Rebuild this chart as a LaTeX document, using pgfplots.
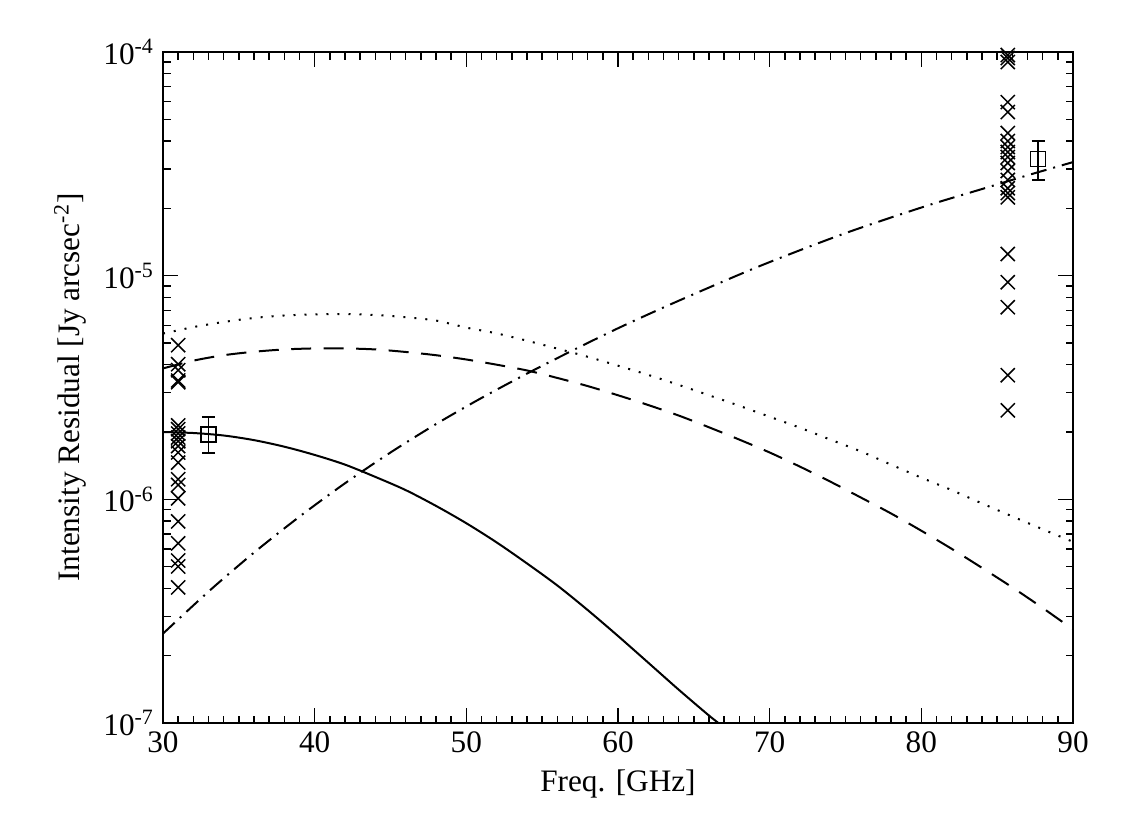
\documentclass[border=0pt]{standalone}
\usepackage{fontspec}
\setmainfont{Liberation Serif}
\usepackage{pgfplots}
\pgfplotsset{compat=1.18}
\begin{document}
\begin{tikzpicture}
\useasboundingbox (-65.2pt,-42.8pt) rectangle (383.2pt,289.2pt);
\begin{axis}[
  at={(0pt,0pt)}, anchor=south west,
  scale only axis, width=364pt, height=268.4pt,
  xmin=30, xmax=90, ymode=log, ymin=1e-7, ymax=1e-4,
  xtick={30,40,...,90}, minor x tick num=9,
  ytick={1e-7,1e-6,1e-5,1e-4},
  yticklabels={10\textsuperscript{-7},10\textsuperscript{-6},10\textsuperscript{-5},10\textsuperscript{-4}},
  /pgf/number format/assume math mode=true,
  ticklabel style={font=\fontsize{12.5}{15}\selectfont},
  label style={font=\fontsize{12.5}{15}\selectfont},
  xlabel={Freq. [GHz]},
  ylabel={Intensity Residual [Jy arcsec\textsuperscript{-2}]},
  axis line style={line width=0.8pt},
  major tick length=6pt, minor tick length=3pt,
  every tick/.style={black, line width=0.6pt},
  tick align=inside,
  clip=true,
]
% solid
\addplot[black, line width=0.8pt, smooth] coordinates {
(30,2.00e-6) (32,1.98e-6) (34,1.93e-6) (36,1.84e-6) (38,1.72e-6) (40,1.58e-6)
(42,1.43e-6) (44,1.26e-6) (46,1.10e-6) (48,9.35e-7) (50,7.82e-7) (52,6.42e-7)
(54,5.17e-7) (56,4.12e-7) (58,3.20e-7) (60,2.45e-7) (62,1.86e-7) (64,1.41e-7)
(66,1.08e-7) (67,9.55e-8) (68,8.4e-8)};
% dotted
\addplot[black, line width=0.8pt, smooth, dash pattern=on 0.8pt off 3.6pt] coordinates {
(30,5.51e-6) (32,5.89e-6) (34,6.21e-6) (36,6.47e-6) (38,6.64e-6) (40,6.71e-6)
(42,6.73e-6) (44,6.67e-6) (46,6.52e-6) (48,6.30e-6) (50,5.86e-6) (52,5.52e-6)
(54,5.12e-6) (56,4.72e-6) (58,4.34e-6) (60,3.96e-6) (62,3.60e-6) (64,3.25e-6)
(66,2.92e-6) (68,2.62e-6) (70,2.34e-6) (72,2.09e-6) (74,1.85e-6) (76,1.64e-6)
(78,1.43e-6) (80,1.25e-6) (82,1.10e-6) (84,9.59e-7) (86,8.39e-7) (88,7.35e-7)
(90,6.46e-7)};
% dashed
\addplot[black, line width=0.8pt, smooth, dash pattern=on 8pt off 5pt] coordinates {
(30,3.85e-6) (32,4.17e-6) (34,4.41e-6) (36,4.57e-6) (38,4.68e-6) (40,4.73e-6)
(42,4.73e-6) (44,4.68e-6) (46,4.56e-6) (48,4.41e-6) (50,4.22e-6) (52,4.00e-6)
(54,3.77e-6) (56,3.49e-6) (58,3.21e-6) (60,2.92e-6) (62,2.64e-6) (64,2.37e-6)
(66,2.10e-6) (68,1.85e-6) (70,1.62e-6) (72,1.40e-6) (74,1.20e-6) (76,1.02e-6)
(78,8.65e-7) (80,7.24e-7) (82,6.01e-7) (84,4.94e-7) (86,4.04e-7) (88,3.27e-7)
(90,2.62e-7)};
% dash-dot
\addplot[black, line width=0.8pt, smooth, dash pattern=on 6.4pt off 2.8pt on 0.8pt off 2.8pt] coordinates {
(30,2.51e-7) (33,3.87e-7) (36,5.78e-7) (39,8.37e-7) (42,1.18e-6) (45,1.62e-6)
(48,2.17e-6) (51,2.84e-6) (54,3.65e-6) (57,4.63e-6) (60,5.82e-6) (63,7.21e-6)
(66,8.85e-6) (69,1.08e-5) (72,1.30e-5) (75,1.55e-5) (78,1.82e-5) (81,2.12e-5)
(84,2.44e-5) (87,2.81e-5) (90,3.22e-5)};
% crosses at 31 GHz
\addplot[black, only marks, mark=x, mark size=4pt, mark options={line width=0.6pt}] coordinates {
(31,4.89e-6) (31,4.02e-6) (31,3.78e-6) (31,3.40e-6) (31,3.34e-6) (31,2.14e-6)
(31,2.06e-6) (31,1.97e-6) (31,1.89e-6) (31,1.82e-6) (31,1.73e-6) (31,1.62e-6)
(31,1.46e-6) (31,1.23e-6) (31,1.16e-6) (31,1.01e-6) (31,7.97e-7) (31,6.36e-7)
(31,5.33e-7) (31,5.01e-7) (31,4.04e-7)};
% crosses at 85.7 GHz
\addplot[black, only marks, mark=x, mark size=4pt, mark options={line width=0.6pt}] coordinates {
(85.7,9.69e-5) (85.7,9.40e-5) (85.7,9.02e-5) (85.7,5.97e-5) (85.7,5.39e-5)
(85.7,4.34e-5) (85.7,4.00e-5) (85.7,3.76e-5) (85.7,3.57e-5) (85.7,3.39e-5)
(85.7,3.19e-5) (85.7,2.94e-5) (85.7,2.68e-5) (85.7,2.46e-5) (85.7,2.34e-5)
(85.7,2.24e-5) (85.7,1.25e-5) (85.7,9.35e-6) (85.7,7.23e-6) (85.7,3.59e-6)
(85.7,2.50e-6)};
% squares with error bars
\addplot[black, only marks, mark=square, mark size=3pt, mark options={line width=0.6pt},
  error bars/.cd, y dir=both, y explicit,
  error bar style={line width=0.6pt},
  error mark=-,
  error mark options={rotate=90, mark size=2.6pt, line width=0.6pt}] coordinates {
(33,1.95e-6) += (0,0.38e-6) -= (0,0.34e-6)
(87.7,3.32e-5) += (0,0.68e-5) -= (0,0.64e-5)};
\end{axis}
\end{tikzpicture}
\end{document}
